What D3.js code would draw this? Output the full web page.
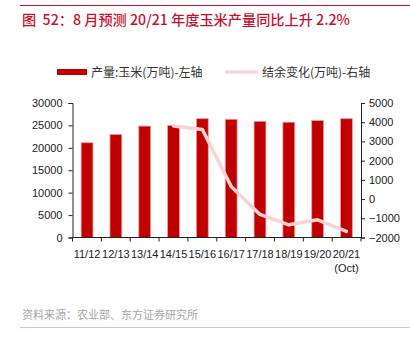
<!DOCTYPE html>
<html><head><meta charset="utf-8">
<script src="https://cdn.jsdelivr.net/npm/d3@7"></script>
<style>
body{margin:0;background:#fff;}
text{font-family:"Liberation Sans","Noto Sans CJK SC",sans-serif;}
</style></head>
<body><svg id="c" width="410" height="342"></svg>
<script>
const categories = ["11/12","12/13","13/14","14/15","15/16","16/17","17/18","18/19","19/20","20/21"];
const production = [21132,22956,24845,24976,26499,26361,25907,25717,26078,26500];
const stockChange = [null,null,null,3800,3620,660,-800,-1340,-1080,-1680];
const leftTicks = [0,5000,10000,15000,20000,25000,30000];
const rightTicks = [-2000,-1000,0,1000,2000,3000,4000,5000];

const svg = d3.select("#c");
const L = 72.5, R = 361, T = 103, B = 237.5;
const red = "#c00000";
const pink = "#f9d3d3";
const cjk = "'Noto Sans CJK SC','Liberation Sans',sans-serif";

// header line & title
svg.append("line").attr("x1",20).attr("x2",410).attr("y1",5.5).attr("y2",5.5).attr("stroke","#c8102e").attr("stroke-width",1);
svg.append("text").attr("x",22).attr("y",25).attr("fill","#c8102e").attr("font-size",14.2)
  .style("font-family",cjk).style("font-weight","500").style("white-space","pre")
  .text("图  52：8 月预测 20/21 年度玉米产量同比上升 2.2%");

// legend
svg.append("rect").attr("x",57).attr("y",69).attr("width",30).attr("height",6).attr("fill",red);
svg.append("text").attr("x",91).attr("y",76.5).attr("font-size",12).attr("fill","#333").style("font-family",cjk).text("产量:玉米(万吨)-左轴");
svg.append("line").attr("x1",225).attr("x2",258).attr("y1",72).attr("y2",72).attr("stroke",pink).attr("stroke-width",3);
svg.append("text").attr("x",262).attr("y",76.5).attr("font-size",12).attr("fill","#333").style("font-family",cjk).text("结余变化(万吨)-右轴");

const x = d3.scaleBand().domain(categories).range([L,R]).paddingInner(0.59).paddingOuter(0.3);
const yL = d3.scaleLinear().domain([0,30000]).range([B,T]);
const yR = d3.scaleLinear().domain([-2000,5000]).range([B,T]);

// bars
svg.append("g").selectAll("rect").data(categories).join("rect")
  .attr("x",d=>x(d)).attr("width",x.bandwidth())
  .attr("y",(d,i)=>yL(production[i])).attr("height",(d,i)=>B-yL(production[i]))
  .attr("fill",red).attr("stroke","#ee9a9a").attr("stroke-width",0.8);

// line
const pts = categories.map((c,i)=>({c,v:stockChange[i]})).filter(d=>d.v!==null);
svg.append("path").datum(pts)
  .attr("d",d3.line().x(d=>x(d.c)+x.bandwidth()/2).y(d=>yR(d.v)))
  .attr("fill","none").attr("stroke",pink).attr("stroke-width",3.5)
  .attr("stroke-linejoin","round").attr("stroke-linecap","round");

// axes
const gl = svg.append("g").attr("transform",`translate(${L},0)`)
  .call(d3.axisLeft(yL).tickValues(leftTicks).tickSize(4).tickPadding(6).tickFormat(d3.format("d")));
const gr = svg.append("g").attr("transform",`translate(${R},0)`)
  .call(d3.axisRight(yR).tickValues(rightTicks).tickSize(4).tickPadding(4).tickFormat(d3.format("d")));
[gl,gr].forEach(g=>{
  g.select(".domain").attr("stroke","#222");
  g.selectAll(".tick line").attr("stroke","#222");
  g.selectAll("text").attr("font-size",11).attr("fill","#222").style("font-family","'Liberation Sans',sans-serif");
});

// x axis
const gx = svg.append("g");
gx.append("line").attr("x1",L).attr("x2",R).attr("y1",B).attr("y2",B).attr("stroke","#222");
const bounds = d3.range(categories.length+1).map(i=>L + (R-L)*i/categories.length);
gx.selectAll("line.t").data(bounds).join("line").attr("class","t")
  .attr("x1",d=>d).attr("x2",d=>d).attr("y1",B).attr("y2",B+4).attr("stroke","#222");
gx.selectAll("text.l").data(categories).join("text").attr("class","l")
  .attr("x",d=>x(d)+x.bandwidth()/2).attr("y",258).attr("text-anchor","middle")
  .attr("font-size",11).attr("fill","#222").text(d=>d);
gx.append("text").attr("x",x("20/21")+x.bandwidth()/2).attr("y",272).attr("text-anchor","middle")
  .attr("font-size",11).attr("fill","#222").text("(Oct)");

// source
svg.append("text").attr("x",22).attr("y",319).attr("font-size",11).attr("fill","#a6a6a6").style("font-family",cjk)
  .text("资料来源：农业部、东方证券研究所");
svg.append("line").attr("x1",20).attr("x2",410).attr("y1",327.5).attr("y2",327.5).attr("stroke","#f2b8b8").attr("stroke-width",1);
</script></body></html>
